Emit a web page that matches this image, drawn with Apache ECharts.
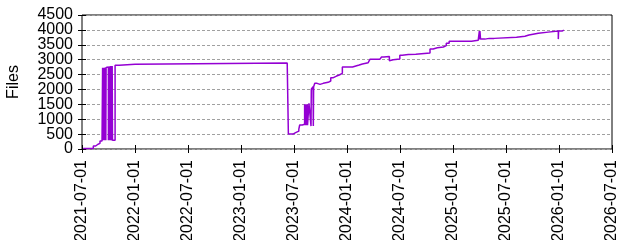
<!DOCTYPE html>
<html><head><meta charset="utf-8">
<script src="https://cdn.jsdelivr.net/npm/echarts@6/dist/echarts.min.js"></script>
<style>html,body{margin:0;padding:0;background:#fff}#c{width:640px;height:240px}</style>
</head><body><div id="c"></div>
<script>
const dates = [
'2021-07-05','2021-08-09','2021-08-17','2021-08-25','2021-09-01','2021-09-08',
'2021-09-10','2021-09-12','2021-09-13','2021-09-15','2021-09-16','2021-09-18','2021-09-19','2021-09-21','2021-09-22',
'2021-09-23','2021-09-30','2021-10-02','2021-10-03','2021-10-05','2021-10-06','2021-10-08','2021-10-09','2021-10-13','2021-10-14',
'2021-10-23','2021-11-06','2021-12-31','2022-01-05','2023-06-08','2023-06-12','2023-06-28','2023-07-07','2023-07-18','2023-07-20',
'2023-07-21','2023-07-30','2023-08-04','2023-08-07','2023-08-08','2023-08-10','2023-08-11','2023-08-13','2023-08-14','2023-08-16','2023-08-17',
'2023-08-22','2023-08-28','2023-08-29','2023-08-30','2023-09-05','2023-09-06','2023-09-07','2023-09-11','2023-09-19','2023-09-29',
'2023-10-10','2023-10-27','2023-11-05','2023-11-14','2023-11-25','2023-12-04','2023-12-15','2024-01-19','2024-01-21','2024-02-11',
'2024-02-22','2024-03-13','2024-03-19','2024-04-22','2024-04-28','2024-05-06','2024-05-25','2024-05-29','2024-06-07','2024-06-30',
'2024-07-06','2024-07-08','2024-07-12','2024-07-29','2024-08-24','2024-08-30','2024-10-12','2024-10-23','2024-11-06','2024-11-27',
'2024-12-07','2024-12-17','2025-03-04','2025-03-27','2025-03-31','2025-04-01','2025-04-02','2025-04-04','2025-04-19','2025-05-04',
'2025-05-05','2025-05-21','2025-08-06','2025-09-04','2025-09-18','2025-09-19','2025-09-21','2025-10-20','2025-11-23','2025-12-28',
'2025-12-29','2026-01-10','2026-01-16'
];
const files = [
20,100,160,190,270,300,
2730,290,2730,290,2730,290,2740,290,2740,
2750,290,2770,290,2780,290,2790,290,2790,290,
2810,2845,2875,2885,2865,500,550,600,670,620,
805,860,830,1500,800,1500,800,1500,800,1500,800,
1535,1590,770,2005,2090,770,2090,2205,2170,2205,
2240,2285,2395,2450,2485,2540,2755,2800,2820,2855,
2900,2955,3010,3065,3090,3110,2965,3000,3020,3145,
3110,3145,3170,3180,3200,3225,3360,3400,3425,3470,
3550,3620,3650,3680,3960,3680,3960,3690,3715,3670,
3715,3750,3785,3830,3800,3830,3890,3925,3960,3690,
3960,3990,3990
];
const xTickLabels = ['2021-07-01','2022-01-01','2022-07-01','2023-01-01','2023-07-01','2024-01-01','2024-07-01','2025-01-01','2025-07-01','2026-01-01','2026-07-01'];
const yMax = 4500, yStep = 500;
const yName = 'Files';

const DAY = 86400000;
function ms(s){const p=s.split('-');return Date.UTC(+p[0],+p[1]-1,+p[2]);}
const base = ms(xTickLabels[0]);
function dayOf(s){return (ms(s)-base)/DAY;}
const xMax = dayOf(xTickLabels[xTickLabels.length-1]);
const xStep = xMax/(xTickLabels.length-1);
const seriesData = dates.map((d,i)=>[dayOf(d), files[i]]);

const FONT = 'Liberation Sans, Arial, sans-serif';
const chart = echarts.init(document.getElementById('c'), null, {renderer:'canvas'});
const tick = {show:true, inside:true, length:4, lineStyle:{color:'#000', width:1}};
const yLabel = (even) => ({margin:9, fontSize:16, color:'#000', fontFamily:FONT,
  showMinLabel:true, showMaxLabel:true, hideOverlap:false,
  formatter:v=>((Math.round(v/yStep)%2===0)===even ? String(v) : '')});
chart.setOption({
  animation:false,
  backgroundColor:'#fff',
  grid:{left:82, right:28, top:15, bottom:91, outerBoundsMode:'none', containLabel:false,
    show:true, borderColor:'#000', borderWidth:1, backgroundColor:'transparent'},
  xAxis:[{
    type:'value', min:0, max:xMax, interval:xStep,
    axisLine:{show:false}, axisTick:tick, splitLine:{show:false},
    axisLabel:{rotate:90, margin:11, fontSize:16, lineHeight:12, color:'#000', fontFamily:FONT, padding:[0,0,7,0],
      showMinLabel:true, showMaxLabel:true, hideOverlap:false,
      formatter:v=>xTickLabels[Math.round(v/xStep)]||''}
  },{
    type:'value', position:'top', min:0, max:xMax, interval:xStep,
    axisLine:{show:false}, axisTick:tick, splitLine:{show:false}, axisLabel:{show:false}
  }],
  yAxis:[{
    type:'value', position:'left', offset:0, min:0, max:yMax, interval:yStep,
    name:yName, nameLocation:'middle', nameGap:60, nameRotate:90,
    nameTextStyle:{fontSize:16, color:'#000', fontFamily:FONT},
    axisLine:{show:false}, axisTick:tick,
    splitLine:{show:true, lineStyle:{color:'#a0a0a0', width:1, type:[3,2]}},
    axisLabel:yLabel(true)
  },{
    type:'value', position:'right', offset:0, min:0, max:yMax, interval:yStep,
    axisLine:{show:false}, axisTick:tick, splitLine:{show:false}, axisLabel:{show:false}
  },{
    type:'value', position:'left', offset:0, min:0, max:yMax, interval:yStep,
    axisLine:{show:false}, axisTick:{show:false}, splitLine:{show:false},
    axisLabel:yLabel(false)
  }],
  series:[{
    type:'line', step:'end', data:seriesData, xAxisIndex:0, yAxisIndex:0,
    showSymbol:false, symbol:'none',
    lineStyle:{color:'#9400d3', width:1.5}
  }]
});
</script></body></html>
